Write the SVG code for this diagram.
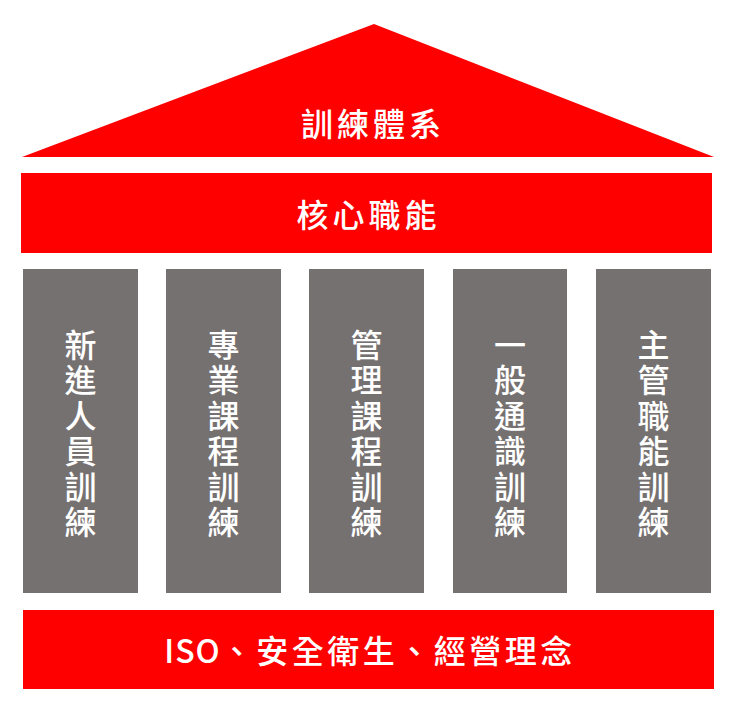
<svg xmlns="http://www.w3.org/2000/svg" width="734" height="705" viewBox="0 0 734 705">
<style>
.red{fill:#FF0000}
.col{fill:#767171}
.t{font-family:"Noto Sans CJK TC","Noto Sans CJK SC",sans-serif;font-weight:500;fill:#FFFFFF;text-anchor:middle;dominant-baseline:central;font-size:32px}
.h{letter-spacing:4px}
</style>
<rect width="734" height="705" fill="#FFFFFF"/>
<g id="roof">
<polygon class="red" points="374,24 714,157 22,157"/>
<text class="t h" x="373" y="122">訓練體系</text>
</g>
<g id="core">
<rect class="red" x="21" y="173" width="691" height="80"/>
<text class="t h" x="368.5" y="212.5">核心職能</text>
</g>
<g id="pillar1">
<rect class="col" x="23" y="269" width="115" height="324"/>
<text class="t" x="80.5" y="343">新</text>
<text class="t" x="80.5" y="378.4">進</text>
<text class="t" x="80.5" y="413.8">人</text>
<text class="t" x="80.5" y="449.2">員</text>
<text class="t" x="80.5" y="484.6">訓</text>
<text class="t" x="80.5" y="520">練</text>
</g>
<g id="pillar2">
<rect class="col" x="166" y="269" width="115" height="324"/>
<text class="t" x="223.5" y="343">專</text>
<text class="t" x="223.5" y="378.4">業</text>
<text class="t" x="223.5" y="413.8">課</text>
<text class="t" x="223.5" y="449.2">程</text>
<text class="t" x="223.5" y="484.6">訓</text>
<text class="t" x="223.5" y="520">練</text>
</g>
<g id="pillar3">
<rect class="col" x="309" y="269" width="115" height="324"/>
<text class="t" x="366.5" y="343">管</text>
<text class="t" x="366.5" y="378.4">理</text>
<text class="t" x="366.5" y="413.8">課</text>
<text class="t" x="366.5" y="449.2">程</text>
<text class="t" x="366.5" y="484.6">訓</text>
<text class="t" x="366.5" y="520">練</text>
</g>
<g id="pillar4">
<rect class="col" x="453" y="269" width="114" height="324"/>
<text class="t" x="510" y="343">一</text>
<text class="t" x="510" y="378.4">般</text>
<text class="t" x="510" y="413.8">通</text>
<text class="t" x="510" y="449.2">識</text>
<text class="t" x="510" y="484.6">訓</text>
<text class="t" x="510" y="520">練</text>
</g>
<g id="pillar5">
<rect class="col" x="596" y="269" width="115" height="324"/>
<text class="t" x="653.5" y="343">主</text>
<text class="t" x="653.5" y="378.4">管</text>
<text class="t" x="653.5" y="413.8">職</text>
<text class="t" x="653.5" y="449.2">能</text>
<text class="t" x="653.5" y="484.6">訓</text>
<text class="t" x="653.5" y="520">練</text>
</g>
<g id="foundation">
<rect class="red" x="23" y="610" width="691" height="79"/>
<text class="t" x="370" y="649"><tspan letter-spacing="1">ISO</tspan><tspan letter-spacing="3.5">、安全衛生、經營理念</tspan></text>
</g>
<g id="connectors"></g>
</svg>
